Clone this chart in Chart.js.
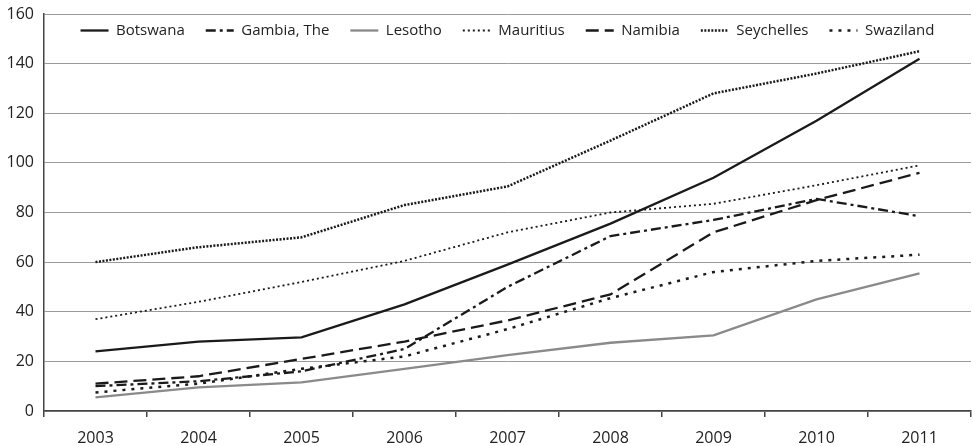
<!DOCTYPE html>
<html>
<head>
<meta charset="utf-8">
<script src="https://cdn.jsdelivr.net/npm/chart.js@4/dist/chart.umd.min.js"></script>
<style>
  html, body { margin: 0; padding: 0; background: #fff; }
  #wrap { width: 973px; height: 446px; }
</style>
</head>
<body>
<div id="wrap"><canvas id="countryLineChart" width="973" height="446"></canvas></div>
<script>
const years = ['2003', '2004', '2005', '2006', '2007', '2008', '2009', '2010', '2011'];

const botswana   = [24, 28, 29.7, 43, 59, 75.5, 94, 117, 142];
const gambia     = [10, 12, 16, 25, 50, 70.5, 77, 85.5, 78.5];
const lesotho    = [5.5, 9.5, 11.5, 17, 22.5, 27.5, 30.5, 45, 55.5];
const mauritius  = [37, 44, 52, 60.5, 72, 80, 83.5, 91, 99];
const namibia    = [11, 14, 21, 28, 36.5, 47, 72, 85, 96];
const seychelles = [60, 66, 70, 83, 90.5, 109, 128, 136, 145];
const swaziland  = [7.5, 11, 17, 22, 33, 45.5, 56, 60.5, 63];

const fontFamily = '"Open Sans", "DejaVu Sans", sans-serif';

// one helper so every series gets the same base look
const makeLine = (label, data, color, dash, width) => ({
  label,
  data,
  borderColor: color,
  backgroundColor: color,
  borderWidth: width,
  borderDash: dash,
  borderCapStyle: 'butt',
  pointRadius: 0,
  pointHoverRadius: 0,
  pointStyle: 'line',
  tension: 0,
  fill: false,
});

// legend sits inside the plot, between the 160 and 140 gridlines
const legendInside = {
  id: 'legendInside',
  beforeLayout(chart) {
    const legend = chart.legend;
    if (legend && !legend._patched) {
      const fit = legend.fit;
      legend.fit = function () {
        fit.call(this);
        this.height = 0;
      };
      legend._patched = true;
    }
  },
  afterLayout(chart) {
    const legend = chart.legend;
    const area = chart.chartArea;
    legend.left = area.left;
    legend.right = area.right;
    legend.width = area.right - area.left;
    legend.top = 2;
    legend.bottom = 48;
    legend.height = 46;
  },
};

const ctx = document.getElementById('countryLineChart').getContext('2d');

new Chart(ctx, {
  type: 'line',
  data: {
    labels: years,
    datasets: [
      makeLine('Botswana', botswana, '#1a1a1a', [], 2.3),
      makeLine('Gambia, The', gambia, '#1a1a1a', [10, 4, 3, 4], 2.3),
      makeLine('Lesotho', lesotho, '#8a8a8a', [], 2.3),
      makeLine('Mauritius', mauritius, '#1a1a1a', [2, 3], 1.8),
      makeLine('Namibia', namibia, '#1a1a1a', [13, 6], 2.3),
      makeLine('Seychelles', seychelles, '#1a1a1a', [2, 1.5], 2.5),
      makeLine('Swaziland', swaziland, '#1a1a1a', [3, 6], 2.5),
    ],
  },
  plugins: [legendInside],
  options: {
    responsive: false,
    animation: false,
    layout: { padding: { top: 14, right: 2, left: 0, bottom: 0 } },
    plugins: {
      tooltip: { enabled: false },
      legend: {
        position: 'top',
        align: 'center',
        labels: {
          usePointStyle: true,
          pointStyleWidth: 28,
          boxHeight: 8,
          padding: 21,
          color: '#222',
          font: { family: fontFamily, size: 15, lineHeight: 1.2 },
          // with point styles the default labels take the (empty) point dash, so copy the line's
          generateLabels(chart) {
            const items = Chart.defaults.plugins.legend.labels.generateLabels(chart);
            items.forEach((item) => {
              const ds = chart.data.datasets[item.datasetIndex];
              item.lineDash = ds.borderDash;
              item.lineWidth = ds.borderWidth;
              item.strokeStyle = ds.borderColor;
              item.lineCap = 'butt';
            });
            return items;
          },
        },
      },
    },
    scales: {
      x: {
        offset: true,
        afterFit(scale) { scale.height = 35; },
        grid: {
          offset: true,
          drawOnChartArea: false,
          drawTicks: true,
          tickLength: 6,
          color: '#444',
          lineWidth: 1.5,
        },
        border: { color: '#444', width: 1.5 },
        ticks: {
          color: '#222',
          padding: 12,
          font: { family: fontFamily, size: 16, lineHeight: 1.2 },
        },
      },
      y: {
        min: 0,
        max: 160,
        afterFit(scale) {
          scale.width = 44;
          scale.paddingTop = 4;
        },
        grid: {
          color: '#9a9a9a',
          lineWidth: 1,
          drawTicks: false,
        },
        border: { color: '#444', width: 1.5 },
        ticks: {
          stepSize: 20,
          color: '#222',
          padding: 10,
          font: { family: fontFamily, size: 16 },
        },
      },
    },
  },
});
</script>
</body>
</html>
